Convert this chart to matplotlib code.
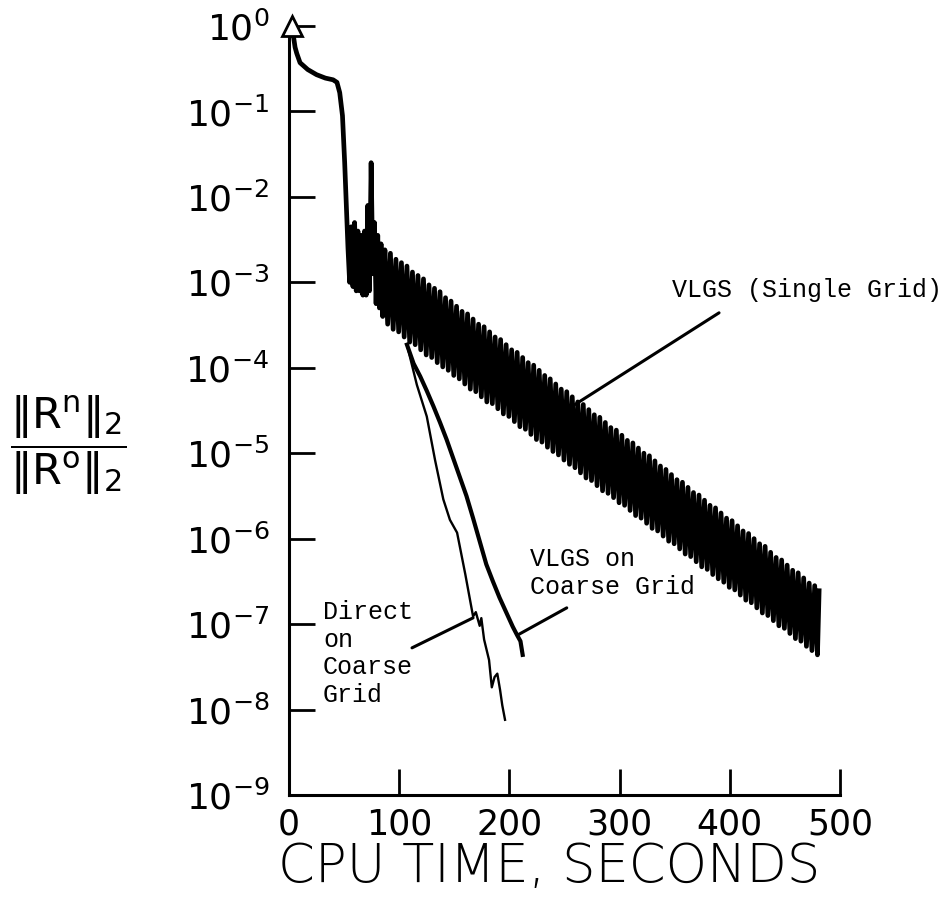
import numpy as np
import matplotlib.pyplot as plt
from matplotlib.ticker import NullLocator

# values: CPU seconds and log10(||R^n|| / ||R^0||)

# shared start of all runs (single-grid VLGS up to the band)
start_t = [3, 4, 5.5, 7, 10, 17, 25, 33, 40, 43.5, 46, 48.5, 50.5, 52, 53.5, 55,
           56.5, 58, 59.5, 61, 62.5, 64, 65.5, 67, 68.5, 70, 71.5, 73, 74.5, 76,
           77.5, 79, 80.5, 82, 83.5, 85]
start_log = [0.0, -0.12, -0.25, -0.32, -0.43, -0.51, -0.57, -0.61, -0.63, -0.66, -0.78, -1.05, -1.6, -2.1, -2.6, -3.0,
             -2.35, -3.05, -2.3, -3.1, -2.4, -3.1, -2.45, -3.15, -2.4, -3.15, -2.1, -3.1, -1.6, -2.9,
             -2.3, -3.25, -2.45, -3.3, -2.55, -3.4]

# single-grid VLGS oscillation: cycle maxima and minima
peak_t = [87, 92, 97, 102, 107, 112, 117, 122, 127, 132, 137, 142, 147, 152, 157, 162,
          167, 172, 177, 182, 187, 192, 197, 202, 207, 212, 217, 222, 227, 232, 237, 242,
          247, 252, 257, 262, 267, 272, 277, 282, 287, 292, 297, 302, 307, 312, 317, 322,
          327, 332, 337, 342, 347, 352, 357, 362, 367, 372, 377, 382, 387, 392, 397, 402,
          407, 412, 417, 422, 427, 432, 437, 442, 447, 452, 457, 462, 467, 472, 477, 481]
peak_log = [-2.62, -2.66, -2.73, -2.77, -2.81, -2.88, -2.92, -2.96, -3.03, -3.07, -3.11, -3.18, -3.22, -3.28, -3.34, -3.37,
            -3.43, -3.49, -3.52, -3.58, -3.64, -3.67, -3.73, -3.79, -3.82, -3.88, -3.94, -3.97, -4.03, -4.09, -4.13, -4.19,
            -4.25, -4.28, -4.34, -4.40, -4.43, -4.49, -4.55, -4.58, -4.64, -4.70, -4.73, -4.79, -4.85, -4.88, -4.94, -5.00,
            -5.03, -5.09, -5.15, -5.19, -5.25, -5.31, -5.34, -5.40, -5.46, -5.49, -5.55, -5.61, -5.64, -5.70, -5.76, -5.79,
            -5.85, -5.91, -5.94, -6.00, -6.06, -6.09, -6.16, -6.22, -6.25, -6.31, -6.37, -6.40, -6.46, -6.52, -6.55, -6.61]
trough_t = [89.5, 94.5, 99.5, 104.5, 109.5, 114.5, 119.5, 124.5, 129.5, 134.5, 139.5, 144.5, 149.5, 154.5, 159.5, 164.5,
            169.5, 174.5, 179.5, 184.5, 189.5, 194.5, 199.5, 204.5, 209.5, 214.5, 219.5, 224.5, 229.5, 234.5, 239.5, 244.5,
            249.5, 254.5, 259.5, 264.5, 269.5, 274.5, 279.5, 284.5, 289.5, 294.5, 299.5, 304.5, 309.5, 314.5, 319.5, 324.5,
            329.5, 334.5, 339.5, 344.5, 349.5, 354.5, 359.5, 364.5, 369.5, 374.5, 379.5, 384.5, 389.5, 394.5, 399.5, 404.5,
            409.5, 414.5, 419.5, 424.5, 429.5, 434.5, 439.5, 444.5, 449.5, 454.5, 459.5, 464.5, 469.5, 474.5, 479.5]
trough_log = [-3.49, -3.55, -3.58, -3.64, -3.70, -3.73, -3.79, -3.85, -3.88, -3.94, -3.99, -4.03, -4.09, -4.13, -4.19, -4.25,
              -4.28, -4.34, -4.40, -4.42, -4.48, -4.54, -4.57, -4.63, -4.69, -4.72, -4.78, -4.84, -4.87, -4.93, -4.98, -5.02,
              -5.08, -5.13, -5.17, -5.23, -5.29, -5.32, -5.38, -5.44, -5.47, -5.52, -5.58, -5.61, -5.67, -5.73, -5.76, -5.82,
              -5.88, -5.91, -5.97, -6.03, -6.06, -6.12, -6.18, -6.21, -6.27, -6.33, -6.36, -6.42, -6.47, -6.51, -6.57, -6.60,
              -6.66, -6.72, -6.75, -6.81, -6.87, -6.90, -6.96, -7.02, -7.05, -7.11, -7.17, -7.20, -7.26, -7.31, -7.36]

# direct solve on the coarse grid
direct_t = [107, 116, 125, 132.5, 140, 146, 152.5, 160, 167, 169.5, 173, 174.5, 177,
            181.5, 184, 186.5, 189, 191.5, 193.5, 196]
direct_log = [-3.73, -4.20, -4.57, -5.08, -5.54, -5.78, -5.93, -6.42, -6.91, -6.86, -7.02, -6.93, -7.18,
              -7.42, -7.74, -7.62, -7.58, -7.77, -7.95, -8.12]

# VLGS on the coarse grid
coarse_t = [107, 113, 119, 125, 131, 137, 143, 149, 155, 161, 167, 173, 179, 185,
            191, 197, 203, 207, 210, 212]
coarse_log = [-3.73, -3.95, -4.10, -4.27, -4.45, -4.64, -4.84, -5.06, -5.28, -5.50, -5.76, -6.03, -6.30, -6.50,
              -6.69, -6.86, -7.03, -7.13, -7.20, -7.36]

xticks = [0, 100, 200, 300, 400, 500]
decades = list(range(-9, 1))

# interleave maxima and minima into one history
band_t, band_log = [], []
for i in range(len(peak_t)):
    band_t.append(peak_t[i])
    band_log.append(peak_log[i])
    if i < len(trough_t):
        band_t.append(trough_t[i])
        band_log.append(trough_log[i])
single_t = start_t + band_t
single_log = start_log + band_log

fig = plt.figure(figsize=(9.52, 8.99), dpi=100)
ax = fig.add_axes([0.3036, 0.1157, 0.5788, 0.8554])
ax.set_yscale('log')

ax.plot(single_t, 10.0 ** np.array(single_log), color='black', lw=3.4,
        solid_joinstyle='round')
ax.plot(direct_t, 10.0 ** np.array(direct_log), color='black', lw=1.7)
ax.plot(coarse_t, 10.0 ** np.array(coarse_log), color='black', lw=3.0)
ax.plot(single_t[0], 10.0 ** single_log[0], marker='^', ms=15, mfc='white',
        mec='black', mew=2, clip_on=False, zorder=5)

ax.set_xlim(0, 500)
ax.set_ylim(1e-9, 1)
ax.set_xticks(xticks)
ax.set_xticklabels([str(v) for v in xticks])
ax.set_yticks([10.0 ** d for d in decades])
ax.set_yticklabels([r'$10^{%d}$' % d for d in decades])
ax.yaxis.set_minor_locator(NullLocator())

for s in ['top', 'right']:
    ax.spines[s].set_visible(False)
for s in ['left', 'bottom']:
    ax.spines[s].set_linewidth(2.2)
ax.tick_params(axis='both', direction='in', length=19, width=2)
ax.tick_params(axis='x', pad=9, labelsize=25)
ax.tick_params(axis='y', pad=14, labelsize=26)

# axis titles
fig.text(0.577, 0.019, 'CPU TIME, SECONDS', fontsize=38, fontweight='light',
         ha='center', va='baseline')
fig.text(0.072, 0.505, r'$\dfrac{\Vert\mathrm{R}^{\mathrm{n}}\Vert_2}{\Vert\mathrm{R}^{\mathrm{o}}\Vert_2}$',
         fontsize=31, ha='center', va='center')

# labels and leader lines
mono = dict(family='Liberation Mono', fontsize=18, va='center', ha='left',
            linespacing=1.2)
ax.text(347.5, 10 ** -3.09, 'VLGS (Single Grid)', **mono)
ax.text(218.7, 10 ** -6.40, 'VLGS on\nCoarse Grid', **mono)
ax.text(30.9, 10 ** -7.345, 'Direct\non\nCoarse\nGrid', **mono)

lead = dict(arrowstyle='-', lw=2.2, color='black', shrinkA=0, shrinkB=0)
ax.annotate('', xy=(259.5, 10 ** -4.43), xytext=(390.2, 10 ** -3.357), arrowprops=lead)
ax.annotate('', xy=(167.0, 10 ** -6.927), xytext=(111.6, 10 ** -7.278), arrowprops=lead)
ax.annotate('', xy=(208.1, 10 ** -7.123), xytext=(252.0, 10 ** -6.81), arrowprops=lead)

fig.savefig('out.png', dpi=100)
